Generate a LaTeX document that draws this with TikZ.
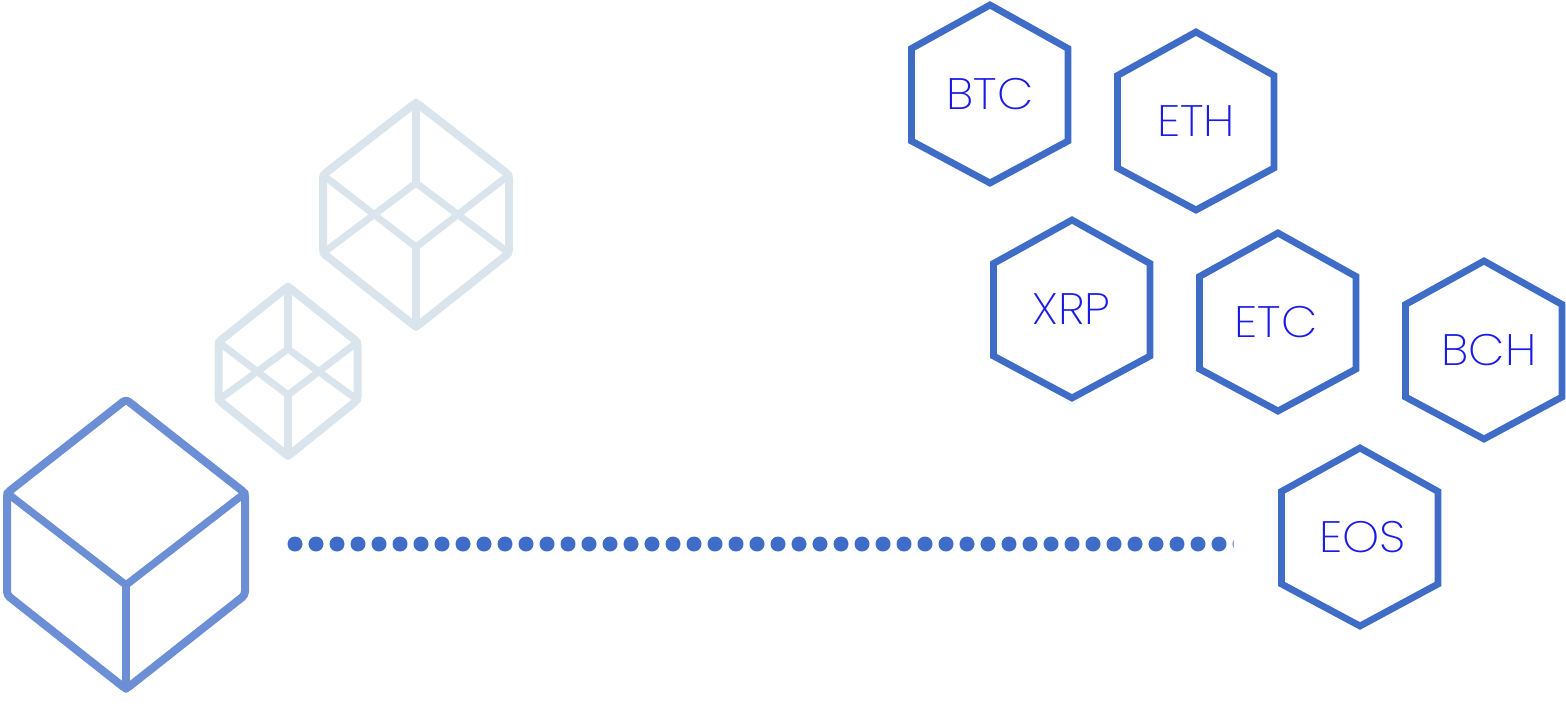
\documentclass[tikz,border=0pt]{standalone}
\usepackage{fontspec}
\setmainfont{Poppins}[UprightFont=* ExtraLight,FakeStretch=1.07]
\definecolor{hexblue}{HTML}{3F6CC6}
\definecolor{cubeblue}{HTML}{6B8ED4}
\definecolor{cubepale}{HTML}{DAE4ED}
\definecolor{labelblue}{HTML}{1A1AE6}
\tikzset{
  hexline/.style={draw=hexblue,line width=6.8pt,miter limit=10},
  hexlabel/.style={text=labelblue,font=\fontsize{44}{44}\selectfont,anchor=base,inner sep=0pt},
  bigedge/.style={draw=cubeblue,line width=7.5pt,line cap=round,line join=round},
  bigpost/.style={draw=cubeblue,line width=8.5pt,line cap=round,line join=round},
  paleedge/.style={draw=cubepale,line width=7pt,line cap=round,line join=round},
  palepost/.style={draw=cubepale,line width=7.8pt,line cap=round,line join=round},
  outlineedge/.style={line width=8pt,line join=round,rounded corners=3.5pt},
  dotline/.style={draw=hexblue,line width=15pt,line cap=round,dash pattern=on 0pt off 21pt},
}
\newcommand{\palecube}[9]{%
  \coordinate (#9t) at (#1,#2);
  \coordinate (#9l) at (#1-#3,#4);
  \coordinate (#9r) at (#1+#3,#4);
  \coordinate (#9dl) at (#1-#3,#5);
  \coordinate (#9dr) at (#1+#3,#5);
  \coordinate (#9b) at (#1,#6);
  \coordinate (#9it) at (#1,#7);
  \coordinate (#9ib) at (#1,#8);
  \draw[paleedge] (#9l) -- (#9ib) -- (#9r);
  \draw[paleedge] (#9dl) -- (#9it) -- (#9dr);
  \draw[palepost] (#9t) -- (#9it);
  \draw[palepost] (#9ib) -- (#9b);
  \draw[outlineedge,draw=cubepale] (#9t) -- (#9r) -- (#9dr) -- (#9b) -- (#9dl) -- (#9l) -- cycle;
}
\begin{document}
\begin{tikzpicture}[x=1pt,y=-1pt]
\useasboundingbox (0,0) rectangle (1566,721);
% pale cubes
\palecube{416}{102.5}{93}{175}{253}{327}{183}{247}{A}
\palecube{288}{286.5}{69.5}{342}{400}{456}{349}{395}{B}
% big cube
\coordinate (ct) at (126,399.5);
\coordinate (cl) at (7,493);
\coordinate (cr) at (245,493);
\coordinate (cm) at (126,585);
\coordinate (cdl) at (7,595);
\coordinate (cdr) at (245,595);
\coordinate (cb) at (126,689);
\draw[bigedge] (cl) -- (cm) -- (cr);
\draw[bigpost,line width=7.5pt] (cm) -- (cb);
\draw[outlineedge,draw=cubeblue] (ct) -- (cr) -- (cdr) -- (cb) -- (cdl) -- (cl) -- cycle;
% dotted connector
\coordinate (dotA) at (295,544);
\coordinate (dotB) at (1240,544);
\begin{scope}
  \clip (280,530) rectangle (1233.5,558);
  \draw[dotline] (dotA) -- (dotB);
\end{scope}
% hexagons
\foreach \hx/\hy/\hname/\tx in {990/0/BTC/990,1196/27/ETH/1196,1072/215/XRP/1071.5,1278/228/ETC/1276,1484/256/BCH/1489,1360/443/EOS/1362.5}{
  \draw[hexline] (\hx,\hy+5) -- (\hx+78,\hy+48.5) -- (\hx+78,\hy+141) -- (\hx,\hy+183) -- (\hx-78.5,\hy+141) -- (\hx-78.5,\hy+48.5) -- cycle;
  \node[hexlabel] (n\hname) at (\tx,\hy+109.5) {\hname};
}
\end{tikzpicture}
\end{document}
